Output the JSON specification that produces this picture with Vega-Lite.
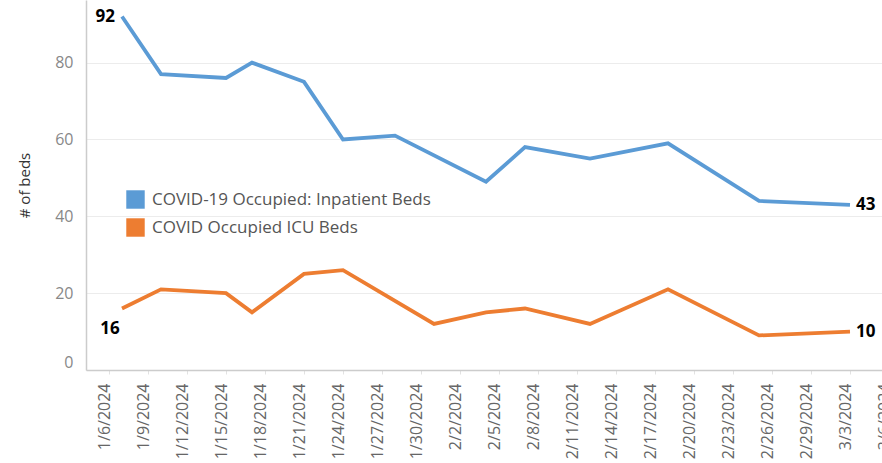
{
  "$schema": "https://vega.github.io/schema/vega-lite/v6.json",
  "autosize": "none",
  "width": 796,
  "height": 370,
  "padding": {"left": 86, "top": 0, "right": 0, "bottom": 93},
  "background": "white",
  "config": {
    "font": "Open Sans",
    "view": {"stroke": null}
  },
  "data": {
    "values": [
      {"date": "2024-01-07T00:00", "series": "COVID-19 Occupied: Inpatient Beds", "value": 92},
      {"date": "2024-01-10T00:00", "series": "COVID-19 Occupied: Inpatient Beds", "value": 77},
      {"date": "2024-01-15T00:00", "series": "COVID-19 Occupied: Inpatient Beds", "value": 76},
      {"date": "2024-01-17T00:00", "series": "COVID-19 Occupied: Inpatient Beds", "value": 80},
      {"date": "2024-01-21T00:00", "series": "COVID-19 Occupied: Inpatient Beds", "value": 75},
      {"date": "2024-01-24T00:00", "series": "COVID-19 Occupied: Inpatient Beds", "value": 60},
      {"date": "2024-01-28T00:00", "series": "COVID-19 Occupied: Inpatient Beds", "value": 61},
      {"date": "2024-02-04T00:00", "series": "COVID-19 Occupied: Inpatient Beds", "value": 49},
      {"date": "2024-02-07T00:00", "series": "COVID-19 Occupied: Inpatient Beds", "value": 58},
      {"date": "2024-02-12T00:00", "series": "COVID-19 Occupied: Inpatient Beds", "value": 55},
      {"date": "2024-02-18T00:00", "series": "COVID-19 Occupied: Inpatient Beds", "value": 59},
      {"date": "2024-02-25T00:00", "series": "COVID-19 Occupied: Inpatient Beds", "value": 44},
      {"date": "2024-03-03T00:00", "series": "COVID-19 Occupied: Inpatient Beds", "value": 43},
      {"date": "2024-01-07T00:00", "series": "COVID Occupied ICU Beds", "value": 16},
      {"date": "2024-01-10T00:00", "series": "COVID Occupied ICU Beds", "value": 21},
      {"date": "2024-01-15T00:00", "series": "COVID Occupied ICU Beds", "value": 20},
      {"date": "2024-01-17T00:00", "series": "COVID Occupied ICU Beds", "value": 15},
      {"date": "2024-01-21T00:00", "series": "COVID Occupied ICU Beds", "value": 25},
      {"date": "2024-01-24T00:00", "series": "COVID Occupied ICU Beds", "value": 26},
      {"date": "2024-01-31T00:00", "series": "COVID Occupied ICU Beds", "value": 12},
      {"date": "2024-02-04T00:00", "series": "COVID Occupied ICU Beds", "value": 15},
      {"date": "2024-02-07T00:00", "series": "COVID Occupied ICU Beds", "value": 16},
      {"date": "2024-02-12T00:00", "series": "COVID Occupied ICU Beds", "value": 12},
      {"date": "2024-02-18T00:00", "series": "COVID Occupied ICU Beds", "value": 21},
      {"date": "2024-02-25T00:00", "series": "COVID Occupied ICU Beds", "value": 9},
      {"date": "2024-03-03T00:00", "series": "COVID Occupied ICU Beds", "value": 10}
    ]
  },
  "encoding": {
    "x": {
      "field": "date",
      "type": "temporal",
      "scale": {
        "domain": [
          {"year": 2024, "month": 1, "date": 4, "hours": 5, "minutes": 32},
          {"year": 2024, "month": 3, "date": 6}
        ],
        "range": [0, 803]
      },
      "axis": {
        "title": null,
        "values": [
          {"year": 2024, "month": 1, "date": 6},
          {"year": 2024, "month": 1, "date": 9},
          {"year": 2024, "month": 1, "date": 12},
          {"year": 2024, "month": 1, "date": 15},
          {"year": 2024, "month": 1, "date": 18},
          {"year": 2024, "month": 1, "date": 21},
          {"year": 2024, "month": 1, "date": 24},
          {"year": 2024, "month": 1, "date": 27},
          {"year": 2024, "month": 1, "date": 30},
          {"year": 2024, "month": 2, "date": 2},
          {"year": 2024, "month": 2, "date": 5},
          {"year": 2024, "month": 2, "date": 8},
          {"year": 2024, "month": 2, "date": 11},
          {"year": 2024, "month": 2, "date": 14},
          {"year": 2024, "month": 2, "date": 17},
          {"year": 2024, "month": 2, "date": 20},
          {"year": 2024, "month": 2, "date": 23},
          {"year": 2024, "month": 2, "date": 26},
          {"year": 2024, "month": 2, "date": 29},
          {"year": 2024, "month": 3, "date": 3},
          {"year": 2024, "month": 3, "date": 6}
        ],
        "format": "%-m/%-d/%Y",
        "labelAngle": 270,
        "labelAlign": "right",
        "labelBaseline": "alphabetic",
        "labelFontSize": 16,
        "labelColor": "#666666",
        "labelPadding": 9,
        "labelOverlap": false,
        "labelFlush": false,
        "grid": false,
        "ticks": true,
        "tickSize": 4,
        "tickColor": "#e2e2e2",
        "domainColor": "#cccccc",
        "domainWidth": 1.5
      }
    },
    "y": {
      "field": "value",
      "type": "quantitative",
      "scale": {"domain": [0, 96.3], "nice": false, "zero": true},
      "axis": {
        "title": "# of beds",
        "titleFontSize": 15,
        "titleFontWeight": "normal",
        "titleColor": "#333333",
        "titlePadding": 22,
        "values": [0, 20, 40, 60, 80],
        "labelFontSize": 16,
        "labelColor": "#888888",
        "labelPadding": 13,
        "labelFlush": true,
        "ticks": false,
        "grid": true,
        "gridColor": "#ececec",
        "gridWidth": 1,
        "domainColor": "#cccccc",
        "domainWidth": 1.5
      }
    }
  },
  "layer": [
    {
      "mark": {"type": "line", "strokeWidth": 3.8, "strokeJoin": "miter", "strokeCap": "butt"},
      "encoding": {
        "color": {
          "field": "series",
          "type": "nominal",
          "scale": {
            "domain": ["COVID-19 Occupied: Inpatient Beds", "COVID Occupied ICU Beds"],
            "range": ["#5B9BD5", "#ED7D31"]
          },
          "legend": {
            "title": null,
            "orient": "none",
            "legendX": 40,
            "legendY": 190,
            "padding": 0,
            "symbolType": "square",
            "symbolSize": 340,
            "symbolStrokeWidth": 0,
            "symbolOpacity": 1,
            "labelFontSize": 17,
            "labelLimit": 0,
            "labelColor": "#555555",
            "labelOffset": 7,
            "rowPadding": 9,
            "encode": {
              "symbols": {
                "update": {
                  "fill": {"scale": "color", "field": "value"},
                  "stroke": {"value": "transparent"}
                }
              }
            }
          }
        }
      }
    },
    {
      "transform": [
        {"filter": {"field": "series", "equal": "COVID-19 Occupied: Inpatient Beds"}},
        {"filter": {"field": "date", "timeUnit": "yearmonthdate", "equal": {"year": 2024, "month": 1, "date": 7}}}
      ],
      "mark": {"type": "text", "align": "right", "baseline": "middle", "dx": -7, "fontSize": 17, "fontWeight": "bold", "color": "#000000"},
      "encoding": {"text": {"field": "value", "type": "quantitative"}}
    },
    {
      "transform": [
        {"filter": {"field": "series", "equal": "COVID Occupied ICU Beds"}},
        {"filter": {"field": "date", "timeUnit": "yearmonthdate", "equal": {"year": 2024, "month": 1, "date": 7}}}
      ],
      "mark": {"type": "text", "align": "center", "baseline": "middle", "dx": -12, "dy": 20, "fontSize": 17, "fontWeight": "bold", "color": "#000000"},
      "encoding": {"text": {"field": "value", "type": "quantitative"}}
    },
    {
      "transform": [
        {"filter": {"field": "date", "timeUnit": "yearmonthdate", "equal": {"year": 2024, "month": 3, "date": 3}}}
      ],
      "mark": {"type": "text", "align": "left", "baseline": "middle", "dx": 6, "fontSize": 17, "fontWeight": "bold", "color": "#000000"},
      "encoding": {"text": {"field": "value", "type": "quantitative"}}
    }
  ]
}
